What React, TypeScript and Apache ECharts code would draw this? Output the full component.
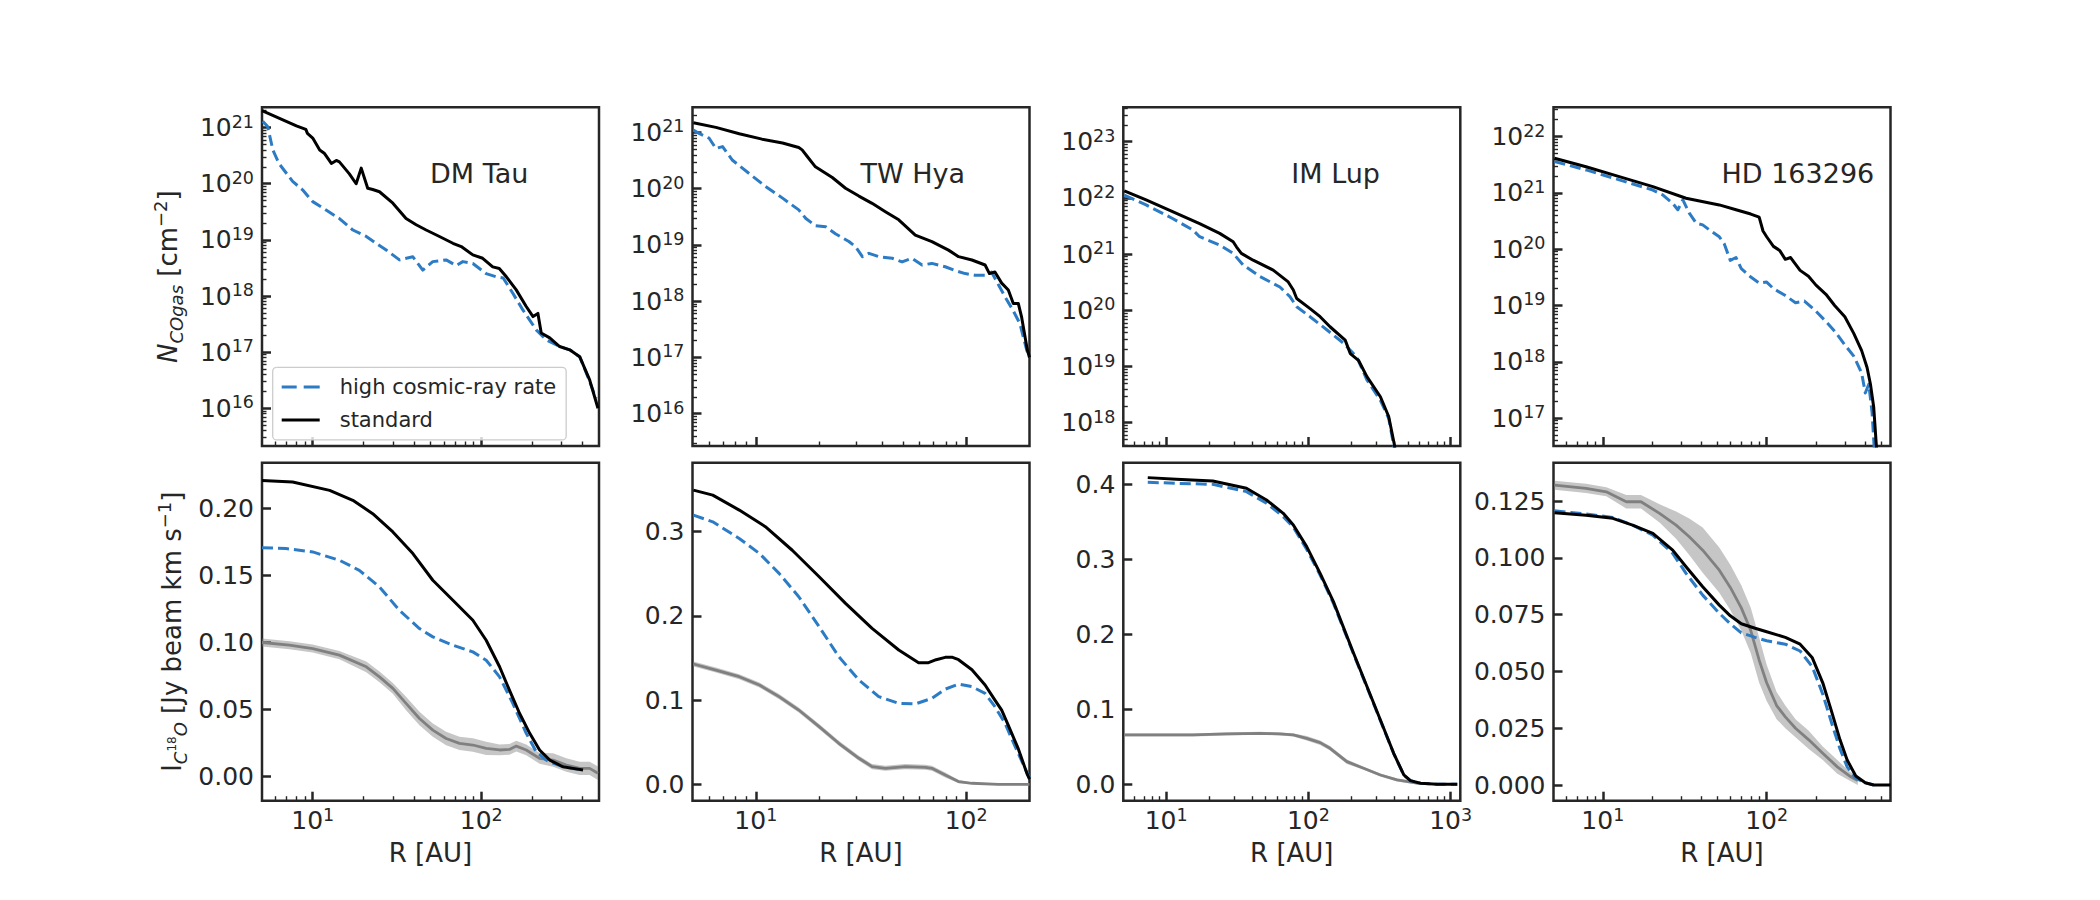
import { useEffect, useRef } from 'react';
import * as echarts from 'echarts';

/* ---------------- DM Tau ---------------- */
// gas-phase CO column density N_COgas [cm^-2] against radius R [AU]
const dmTauColR_cr = [5.05, 5.4, 5.8, 6.3, 7.6, 8.7, 10.0, 12.0, 14.4, 17.3, 20.8, 23.8, 27.3, 32.7, 39.3, 45, 51.6, 61.9, 71, 77.8, 89.2, 107, 123, 135, 154, 177, 212, 243, 292, 335, 384, 430, 480];
const dmTauColN_cr = [1.3e21, 1.05e21, 4.0e20, 2.3e20, 1.1e20, 7.8e19, 4.8e19, 3.4e19, 2.4e19, 1.5e19, 1.15e19, 8.7e18, 6.6e18, 4.4e18, 5.0e18, 2.9e18, 4.1e18, 4.4e18, 3.5e18, 4.1e18, 3.8e18, 2.5e18, 2.2e18, 2.1e18, 1.12e18, 5.6e17, 2.5e17, 1.66e17, 1.26e17, 1.1e17, 8.3e16, 3.6e16, 1.5e16];
const dmTauColR_std = [5.0, 6.3, 8.0, 9.1, 9.3, 10.0, 11.0, 11.7, 12.9, 13.8, 14.4, 16.5, 18.1, 19.4, 21.2, 22.7, 24.9, 29.9, 35.8, 41.1, 47.1, 56.5, 67.9, 76.1, 89.2, 102, 117, 128, 141, 161, 185, 203, 217, 227, 255, 292, 335, 384, 440, 493];
const dmTauColN_std = [2.0e21, 1.48e21, 1.07e21, 9.3e20, 7.9e20, 6.5e20, 4.0e20, 3.5e20, 2.3e20, 2.6e20, 2.45e20, 1.5e20, 1.0e20, 1.9e20, 8.3e19, 7.9e19, 7.2e19, 4.5e19, 2.4e19, 1.86e19, 1.5e19, 1.15e19, 8.7e18, 7.6e18, 5.4e18, 4.7e18, 3.3e18, 3.1e18, 2.2e18, 1.3e18, 6.5e17, 4.3e17, 4.9e17, 2.2e17, 1.8e17, 1.26e17, 1.1e17, 8.3e16, 3.2e16, 1.0e16];
// C18O integrated intensity [Jy beam^-1 km s^-1] against radius R [AU]
const dmTauIntR_cr = [5, 6.95, 10, 14.4, 18.9, 24.9, 32.7, 43, 51.6, 67.9, 89.2, 107, 128.5, 154, 185, 212, 243, 255, 305, 350, 402];
const dmTauIntV_cr = [0.1707, 0.170, 0.1675, 0.1613, 0.1538, 0.1414, 0.124, 0.1104, 0.1042, 0.098, 0.093, 0.0868, 0.0744, 0.0546, 0.0323, 0.0186, 0.0124, 0.011, 0.0074, 0.006, 0.005];
const dmTauIntR_std = [5, 7.6, 12.6, 17.3, 22.7, 29.9, 39.3, 51.6, 67.9, 89.2, 107, 128.5, 147, 169, 194, 222, 255, 305, 350, 402];
const dmTauIntV_std = [0.2208, 0.2196, 0.2134, 0.206, 0.196, 0.1824, 0.1663, 0.1464, 0.1315, 0.1166, 0.1017, 0.0819, 0.0645, 0.0471, 0.0323, 0.0199, 0.0124, 0.0074, 0.0062, 0.005];
const dmTauObsR = [5, 7.27, 10, 14.4, 20.8, 24.9, 29.9, 35.8, 43, 51.6, 61.9, 74.3, 89.2, 107, 128.5, 147, 161.5, 185, 222, 267, 320, 384, 440, 493];
const dmTauObsV = [0.100, 0.098, 0.0955, 0.0906, 0.0819, 0.0744, 0.0658, 0.0546, 0.0434, 0.0347, 0.0285, 0.0248, 0.0236, 0.0211, 0.0199, 0.0203, 0.0228, 0.0199, 0.0136, 0.0124, 0.0087, 0.0062, 0.0062, 0.0025];
const dmTauObsErr = [0.003, 0.003, 0.003, 0.003, 0.004, 0.004, 0.004, 0.005, 0.005, 0.005, 0.005, 0.005, 0.005, 0.005, 0.004, 0.004, 0.004, 0.004, 0.004, 0.005, 0.005, 0.005, 0.005, 0.005];
const dmTauIntTicks = [0, 0.05, 0.1, 0.15, 0.2];

/* ---------------- TW Hya ---------------- */
const twHyaColR_cr = [5.05, 5.4, 6.0, 6.46, 6.95, 7.75, 9.3, 11.1, 13.4, 16.0, 17.3, 19.2, 21.5, 23.9, 27.7, 29.8, 32.1, 34.5, 38.4, 44.5, 49.6, 55.3, 61.7, 68.7, 79.5, 88.7, 98.9, 110, 123, 132, 142, 153, 167, 180, 194, 200];
const twHyaColN_cr = [1.1e21, 9.5e20, 7.9e20, 5.2e20, 5.6e20, 3.2e20, 1.86e20, 1.1e20, 6.8e19, 4.2e19, 2.95e19, 2.2e19, 2.1e19, 1.58e19, 1.15e19, 9.3e18, 6.2e18, 7.1e18, 6.2e18, 5.8e18, 5.0e18, 5.8e18, 4.4e18, 4.7e18, 4.1e18, 3.5e18, 3.1e18, 2.9e18, 2.9e18, 3.3e18, 2.0e18, 1.2e18, 6.9e17, 4.0e17, 1.35e17, 1.0e17];
const twHyaColR_std = [5.05, 6.46, 8.34, 10.7, 13.4, 16.0, 16.6, 17.6, 19.2, 23.1, 26.7, 30.9, 35.7, 41.3, 47.8, 57.3, 68.7, 82.4, 92, 106.5, 123, 129, 137, 147.5, 158.6, 167.5, 177, 183.5, 195, 200];
const twHyaColN_std = [1.49e21, 1.23e21, 9.5e20, 7.6e20, 6.5e20, 5.4e20, 4.9e20, 3.7e20, 2.45e20, 1.58e20, 1.02e20, 7.4e19, 5.5e19, 3.9e19, 2.8e19, 1.5e19, 1.15e19, 8.1e18, 6.2e18, 5.4e18, 4.4e18, 3.1e18, 3.3e18, 2.1e18, 1.58e18, 9.1e17, 9.1e17, 5.2e17, 1.4e17, 1.0e17];
const twHyaIntR_cr = [5.05, 6.24, 8.34, 10.4, 12.9, 16, 20, 24.8, 30.9, 38.4, 47.8, 57.3, 68.7, 79.5, 92, 106.5, 123, 137, 153, 171, 192, 200];
const twHyaIntV_cr = [0.3197, 0.3118, 0.292, 0.2742, 0.2505, 0.2228, 0.1872, 0.1516, 0.1239, 0.1041, 0.0962, 0.0954, 0.1021, 0.113, 0.119, 0.116, 0.108, 0.0922, 0.0724, 0.0447, 0.017, 0.008];
const twHyaIntR_std = [5.05, 6.24, 8.34, 11.1, 14.9, 20, 26.7, 35.7, 47.8, 59.4, 66.2, 72, 79.5, 85.5, 92, 106.5, 123, 137, 147.5, 158.6, 177, 195, 200];
const twHyaIntV_std = [0.3494, 0.3435, 0.3257, 0.306, 0.278, 0.2465, 0.2149, 0.1852, 0.1595, 0.1444, 0.1444, 0.148, 0.1508, 0.151, 0.148, 0.136, 0.118, 0.1, 0.088, 0.07, 0.042, 0.012, 0.006];
const twHyaObsR = [5.05, 6.46, 8.34, 10.4, 12.9, 16, 20, 24.8, 30.9, 35.7, 41.3, 51.4, 64, 68.7, 79.5, 92, 106.5, 142, 200];
const twHyaObsV = [0.1429, 0.1357, 0.1278, 0.1179, 0.1041, 0.0882, 0.0685, 0.0487, 0.0309, 0.021, 0.019, 0.021, 0.0202, 0.019, 0.0111, 0.0032, 0.0012, 0.0, 0.0];
const twHyaObsErr = [0.003, 0.003, 0.003, 0.003, 0.003, 0.003, 0.003, 0.003, 0.003, 0.003, 0.003, 0.003, 0.003, 0.003, 0.003, 0.002, 0.001, 0.001, 0.001];
const twHyaIntTicks = [0, 0.1, 0.2, 0.3];

/* ---------------- IM Lup ---------------- */
const imLupColR_cr = [5.08, 7.23, 11.1, 15.4, 17.2, 23.8, 29.6, 34.8, 45.6, 63.1, 74.2, 82.8, 102.8, 134.7, 176.6, 219, 258, 321, 367, 398, 412];
const imLupColN_cr = [1.12e22, 7.5e21, 4.3e21, 2.7e21, 2.04e21, 1.45e21, 1.03e21, 6.4e20, 4.0e20, 2.6e20, 1.75e20, 1.16e20, 7.7e19, 4.5e19, 2.6e19, 1.48e19, 5.8e18, 2.5e18, 1.2e18, 4.0e17, 2.0e17];
const imLupColR_std = [5.08, 7.23, 11.1, 17.2, 23.8, 29.6, 31.2, 33.8, 40.9, 56.6, 72.2, 78.4, 82.8, 102.8, 121, 142, 181.5, 197, 225, 258, 321, 367, 403, 415];
const imLupColN_std = [1.34e22, 9.2e21, 5.7e21, 3.5e21, 2.34e21, 1.66e21, 1.35e21, 1.03e21, 7.8e20, 5.2e20, 3.2e20, 2.3e20, 1.62e20, 1.07e20, 7.7e19, 5.1e19, 2.95e19, 1.7e19, 1.29e19, 6.6e18, 2.9e18, 1.29e18, 4.0e17, 2.0e17];
const imLupIntR_cr = [7.43, 11.8, 21.3, 36.7, 50.8, 66.6, 78.4, 97.3, 121, 150, 208, 288, 398, 469, 522, 614, 805, 1114];
const imLupIntV_cr = [0.4027, 0.4013, 0.40, 0.3902, 0.3747, 0.3569, 0.3427, 0.3133, 0.279, 0.2413, 0.1735, 0.107, 0.041, 0.012, 0.0048, 0.0013, 0.0, 0.0];
const imLupIntR_std = [7.43, 11.8, 21.3, 36.7, 50.8, 66.6, 78.4, 97.3, 121, 150, 208, 288, 398, 469, 522, 614, 805, 1114];
const imLupIntV_std = [0.4089, 0.4067, 0.4044, 0.3947, 0.3791, 0.3613, 0.3458, 0.3169, 0.2813, 0.2435, 0.1747, 0.108, 0.0413, 0.0124, 0.0049, 0.0013, 0.0, 0.0];
const imLupObsR = [5.08, 9.0, 15.4, 26.5, 45.6, 63.1, 78.4, 97.3, 121, 142, 186.6, 244.5, 321, 420, 597];
const imLupObsV = [0.0658, 0.0658, 0.0658, 0.0671, 0.068, 0.0671, 0.0658, 0.0613, 0.0555, 0.048, 0.0302, 0.0213, 0.0124, 0.0058, 0.0013];
const imLupObsErr = [0.002, 0.002, 0.002, 0.002, 0.002, 0.002, 0.002, 0.003, 0.003, 0.003, 0.003, 0.002, 0.002, 0.002, 0.002];
const imLupIntTicks = [0, 0.1, 0.2, 0.3, 0.4];

/* ---------------- HD 163296 ---------------- */
const hdColR_cr = [5.07, 7.9, 12.6, 20.2, 23.2, 26.7, 28.7, 30.8, 33.8, 37.1, 40.7, 44.7, 51.4, 55, 60, 65, 70, 80, 90, 100, 110, 130, 150, 170, 200, 230, 260, 300, 340, 380, 400, 420, 440, 455];
const hdColN_cr = [3.6e21, 2.55e21, 1.7e21, 1.12e21, 9.2e20, 6.5e20, 5.0e20, 7.5e20, 4.3e20, 2.9e20, 2.7e20, 2.2e20, 1.66e20, 1.26e20, 6.3e19, 7.1e19, 4.5e19, 3.2e19, 2.5e19, 2.6e19, 2.0e19, 1.5e19, 1.12e19, 1.2e19, 7.9e18, 5.2e18, 3.5e18, 2.0e18, 1.26e18, 6.3e17, 2.8e17, 4.0e17, 1.26e17, 2.5e16];
const hdColR_std = [5.07, 7.9, 12.6, 20.2, 32.2, 51.4, 65, 80, 90, 95, 100, 110, 120, 130, 140, 160, 180, 200, 230, 260, 300, 340, 380, 410, 430, 450, 460, 470];
const hdColN_std = [4.1e21, 2.9e21, 1.94e21, 1.29e21, 8.0e20, 6.1e20, 5.0e20, 4.2e20, 3.7e20, 2.1e20, 1.66e20, 1.12e20, 9.5e19, 6.6e19, 7.1e19, 4.2e19, 3.3e19, 2.3e19, 1.58e19, 1.0e19, 6.3e18, 3.2e18, 1.58e18, 7.9e17, 4.0e17, 1.58e17, 6.3e16, 2.5e16];
const hdIntR_cr = [5.07, 7.9, 11.5, 15.2, 20.2, 26.7, 32.2, 40.7, 51.4, 60, 70, 85, 100, 130, 160, 190, 220, 250, 280, 310, 350, 400, 450];
const hdIntV_cr = [0.1207, 0.1193, 0.1178, 0.1144, 0.11, 0.102, 0.0932, 0.0836, 0.0756, 0.071, 0.067, 0.065, 0.0635, 0.062, 0.059, 0.052, 0.04, 0.027, 0.016, 0.008, 0.003, 0.001, 0.0];
const hdIntR_std = [5.07, 7.9, 11.5, 15.2, 20.2, 26.7, 32.2, 40.7, 51.4, 60, 70, 85, 100, 130, 160, 190, 220, 250, 280, 310, 350, 400, 450, 500, 570];
const hdIntV_std = [0.1199, 0.1188, 0.1174, 0.1144, 0.1108, 0.1034, 0.0961, 0.0873, 0.0792, 0.0745, 0.071, 0.069, 0.0675, 0.065, 0.062, 0.056, 0.045, 0.032, 0.02, 0.011, 0.004, 0.001, 0.0, 0.0, 0.0];
const hdObsR = [5.07, 7.9, 10.5, 13.9, 17.1, 22.2, 28, 33.7, 40.7, 51.4, 60, 70, 80, 90, 100, 115, 130, 150, 180, 220, 270, 320, 360];
const hdObsV = [0.132, 0.1306, 0.1291, 0.1247, 0.1247, 0.1196, 0.1144, 0.1093, 0.1034, 0.0946, 0.087, 0.078, 0.068, 0.055, 0.045, 0.035, 0.03, 0.025, 0.02, 0.014, 0.008, 0.004, 0.002];
const hdObsErr = [0.002, 0.002, 0.002, 0.003, 0.003, 0.004, 0.006, 0.008, 0.01, 0.01, 0.01, 0.01, 0.01, 0.01, 0.008, 0.006, 0.005, 0.004, 0.004, 0.003, 0.003, 0.002, 0.002];
const hdIntTicks = [0, 0.025, 0.05, 0.075, 0.1, 0.125];

/* ---------------- styling and layout ---------------- */
const FONT = 'DejaVu Sans';
const INK = '#262626';
const BLUE = '#2c7bc5';
const GREY = '#808080';
const BAND = 'rgba(128,128,128,0.45)';
const CR_NAME = 'high cosmic-ray rate';
const STD_NAME = 'standard';
const TICK_FONT = 25;

const GRID_LEFT = [262, 692.5, 1123.3, 1553.5];
const GRID_W = 337;
const TOP_Y = 107.3;
const TOP_H = 338.7;
const BOT_Y = 462.7;
const BOT_H = 338;

const panels = [
  {
    name: 'DM Tau', xMin: 5, xMax: 500, colMin: 2.13e15, colMax: 2.3e21, intMin: -0.0179, intMax: 0.234,
    intTicks: dmTauIntTicks, digits: 2,
    colCr: [dmTauColR_cr, dmTauColN_cr], colStd: [dmTauColR_std, dmTauColN_std],
    intCr: [dmTauIntR_cr, dmTauIntV_cr], intStd: [dmTauIntR_std, dmTauIntV_std],
    obs: [dmTauObsR, dmTauObsV, dmTauObsErr],
  },
  {
    name: 'TW Hya', xMin: 5, xMax: 200, colMin: 2.67e15, colMax: 2.8e21, intMin: -0.0195, intMax: 0.382,
    intTicks: twHyaIntTicks, digits: 1,
    colCr: [twHyaColR_cr, twHyaColN_cr], colStd: [twHyaColR_std, twHyaColN_std],
    intCr: [twHyaIntR_cr, twHyaIntV_cr], intStd: [twHyaIntR_std, twHyaIntV_std],
    obs: [twHyaObsR, twHyaObsV, twHyaObsErr],
  },
  {
    name: 'IM Lup', xMin: 5, xMax: 1170, colMin: 3.85e17, colMax: 4.1e23, intMin: -0.0219, intMax: 0.4288,
    intTicks: imLupIntTicks, digits: 1,
    colCr: [imLupColR_cr, imLupColN_cr], colStd: [imLupColR_std, imLupColN_std],
    intCr: [imLupIntR_cr, imLupIntV_cr], intStd: [imLupIntR_std, imLupIntV_std],
    obs: [imLupObsR, imLupObsV, imLupObsErr],
  },
  {
    name: 'HD 163296', xMin: 5, xMax: 570, colMin: 3.2e16, colMax: 3.3e22, intMin: -0.0069, intMax: 0.1419,
    intTicks: hdIntTicks, digits: 3,
    colCr: [hdColR_cr, hdColN_cr], colStd: [hdColR_std, hdColN_std],
    intCr: [hdIntR_cr, hdIntV_cr], intStd: [hdIntR_std, hdIntV_std],
    obs: [hdObsR, hdObsV, hdObsErr],
  },
];

const pairs = (xs: number[], ys: number[]) => xs.map((x, i) => [x, ys[i]]);

// powers of ten inside [lo, hi]
const decadesIn = (lo: number, hi: number) => {
  const out: number[] = [];
  for (let e = Math.ceil(Math.log10(lo) - 1e-9); e <= Math.floor(Math.log10(hi) + 1e-9); e++) out.push(Math.pow(10, e));
  return out;
};
// 2..9 x 10^n inside (lo, hi)
const minorsIn = (lo: number, hi: number) => {
  const out: number[] = [];
  for (let e = Math.floor(Math.log10(lo)); e <= Math.ceil(Math.log10(hi)); e++) {
    for (let k = 2; k <= 9; k++) {
      const v = k * Math.pow(10, e);
      if (v > lo && v < hi) out.push(v);
    }
  }
  return out;
};

const richPow = {
  b: { fontFamily: FONT, fontSize: TICK_FONT, color: INK, lineHeight: 30, verticalAlign: 'middle' },
  s: { fontFamily: FONT, fontSize: 17.5, color: INK, lineHeight: 17, verticalAlign: 'top' },
};
const powLabel = (v: number) => `{b|10}{s|${Math.round(Math.log10(v))}}`;

const richName = {
  t: { fontFamily: FONT, fontSize: 26, color: INK, lineHeight: 34, verticalAlign: 'middle' },
  i: { fontFamily: FONT, fontSize: 26, fontStyle: 'italic', color: INK, lineHeight: 34, verticalAlign: 'middle' },
  is: { fontFamily: FONT, fontSize: 18, fontStyle: 'italic', color: INK, lineHeight: 18, verticalAlign: 'bottom' },
  iss: { fontFamily: FONT, fontSize: 12, color: INK, lineHeight: 12, verticalAlign: 'middle' },
  s: { fontFamily: FONT, fontSize: 18, color: INK, lineHeight: 18, verticalAlign: 'top' },
};

const majorTick = (values: number[]) => ({
  show: true, inside: true, length: 9, customValues: values, lineStyle: { color: INK, width: 2.5 },
});
const minorTick = (values: number[]) => ({
  show: true, inside: true, length: 4.5, customValues: values, lineStyle: { color: INK, width: 1.4 },
});
const noLine = { show: false, onZero: false };

function buildOption() {
  const grid: any[] = [];
  const xAxis: any[] = [];
  const yAxis: any[] = [];
  const series: any[] = [];

  // grid index g = row * 4 + col; grids and axes are pushed in that same order
  [0, 1].forEach((row) => {
    panels.forEach((p, col) => {
      const g = row * 4 + col;
      grid.push({
        left: GRID_LEFT[col], top: row ? BOT_Y : TOP_Y, width: GRID_W, height: row ? BOT_H : TOP_H,
        show: true, borderColor: INK, borderWidth: 2.5, backgroundColor: 'transparent',
        containLabel: false, outerBoundsMode: 'none',
      });

      const xMajor = decadesIn(p.xMin, p.xMax);
      xAxis.push({
        gridIndex: g, type: 'log', logBase: 10, min: p.xMin, max: p.xMax, position: 'bottom',
        axisLine: noLine, splitLine: { show: false },
        axisTick: majorTick(xMajor),
        axisLabel: row
          ? { show: true, customValues: xMajor, formatter: powLabel, margin: 5, rich: richPow, color: INK, fontFamily: FONT, fontSize: TICK_FONT }
          : { show: false },
        name: row ? 'R [AU]' : '', nameLocation: 'middle', nameGap: 37,
        nameTextStyle: { fontFamily: FONT, fontSize: 26, color: INK, lineHeight: 30 },
      });
      xAxis.push({
        gridIndex: g, type: 'log', logBase: 10, min: p.xMin, max: p.xMax, position: 'bottom',
        axisLine: noLine, splitLine: { show: false }, axisLabel: { show: false },
        axisTick: minorTick(minorsIn(p.xMin, p.xMax)),
      });

      if (row === 0) {
        const yMajor = decadesIn(p.colMin, p.colMax);
        yAxis.push({
          gridIndex: g, type: 'log', logBase: 10, min: p.colMin, max: p.colMax, position: 'left',
          axisLine: noLine, splitLine: { show: false },
          axisTick: majorTick(yMajor),
          axisLabel: { show: true, customValues: yMajor, formatter: powLabel, margin: 8, rich: richPow, color: INK, fontFamily: FONT, fontSize: TICK_FONT },
          name: col === 0 ? '{i|N}{is|COgas}{t| [cm}{s|\u22122}{t|]}' : '',
          nameLocation: 'middle', nameRotate: 90, nameGap: 77, nameTextStyle: { rich: richName },
        });
        yAxis.push({
          gridIndex: g, type: 'log', logBase: 10, min: p.colMin, max: p.colMax, position: 'left',
          axisLine: noLine, splitLine: { show: false }, axisLabel: { show: false },
          axisTick: minorTick(minorsIn(p.colMin, p.colMax)),
        });
      } else {
        yAxis.push({
          gridIndex: g, type: 'value', min: p.intMin, max: p.intMax, position: 'left',
          axisLine: noLine, splitLine: { show: false },
          axisTick: majorTick(p.intTicks),
          axisLabel: {
            show: true, customValues: p.intTicks, margin: 8, color: INK, fontFamily: FONT, fontSize: TICK_FONT,
            formatter: (v: number) => v.toFixed(p.digits),
          },
          name: col === 0 ? '{t|I}{is|C}{iss|18}{is|O}{t| [Jy beam km s}{s|\u22121}{t|]}' : '',
          nameLocation: 'middle', nameRotate: 90, nameGap: 73, nameTextStyle: { rich: richName },
        });
        yAxis.push({
          gridIndex: g, type: 'value', min: p.intMin, max: p.intMax, position: 'left',
          axisLine: noLine, splitLine: { show: false }, axisLabel: { show: false }, axisTick: { show: false },
        });
      }

      const ax = { xAxisIndex: 2 * g, yAxisIndex: 2 * g };
      const line = (name: string, data: number[][], color: string, dashed: boolean, width = 3) => ({
        type: 'line', name, ...ax, data, symbol: 'none', showSymbol: false, silent: true,
        lineStyle: { color, width, type: dashed ? [11, 5] : 'solid', cap: 'butt', join: 'round' },
        itemStyle: { color },
      });

      if (row === 0) {
        series.push(line(CR_NAME, pairs(p.colCr[0], p.colCr[1]), BLUE, true));
        series.push(line(STD_NAME, pairs(p.colStd[0], p.colStd[1]), '#000000', false));
      } else {
        const [oR, oV, oE] = p.obs;
        // shaded uncertainty band of the observed profile: one polygon, upper edge then lower edge
        series.push({
          type: 'custom', name: `${p.name} uncertainty`, ...ax, silent: true,
          data: oR.map((r, i) => [r, oV[i] - oE[i], oV[i] + oE[i]]),
          encode: { x: 0, y: [1, 2] },
          renderItem: (params: any, api: any) => {
            if (params.dataIndex !== 0) return null;
            const upper = oR.map((r, i) => api.coord([r, oV[i] + oE[i]]));
            const lower = oR.map((r, i) => api.coord([r, oV[i] - oE[i]])).reverse();
            const cs = params.coordSys;
            return {
              type: 'polygon',
              shape: { points: upper.concat(lower) },
              style: { fill: BAND, stroke: null },
              clipPath: { type: 'rect', shape: { x: cs.x, y: cs.y, width: cs.width, height: cs.height } },
            };
          },
        });
        series.push(line(`${p.name} observed`, pairs(oR, oV), GREY, false, 2.8));
        series.push(line(CR_NAME, pairs(p.intCr[0], p.intCr[1]), BLUE, true));
        series.push(line(STD_NAME, pairs(p.intStd[0], p.intStd[1]), '#000000', false));
      }
    });
  });

  return {
    animation: false,
    backgroundColor: '#ffffff',
    textStyle: { fontFamily: FONT },
    grid, xAxis, yAxis, series,
    legend: {
      data: [
        { name: CR_NAME, icon: 'path://M0,0h15v3H0z M22,0h16v3H22z', itemStyle: { color: BLUE } },
        { name: STD_NAME, icon: 'path://M0,0h38v3H0z', itemStyle: { color: '#000000' } },
      ],
      orient: 'vertical', left: 272.7, top: 367.3,
      padding: [9.3, 10, 9.3, 9], itemWidth: 38, itemHeight: 3, itemGap: 12,
      backgroundColor: 'rgba(255,255,255,0.8)', borderColor: '#cccccc', borderWidth: 1.3, borderRadius: 4,
      selectedMode: false,
      textStyle: { fontFamily: FONT, fontSize: 21, color: INK, lineHeight: 18, padding: [0, 0, 0, 15] },
    },
    graphic: panels.map((p, col) => ({
      type: 'text', x: GRID_LEFT[col] + 168, y: 173.7, z: 50, silent: true,
      style: { text: p.name, fontFamily: FONT, fontSize: 27, fill: INK, align: 'left', verticalAlign: 'middle' },
    })),
  };
}

export default function App() {
  const ref = useRef<HTMLDivElement>(null);
  useEffect(() => {
    if (!ref.current) return;
    const chart = echarts.init(ref.current, null, { renderer: 'svg' });
    chart.setOption(buildOption() as any);
    return () => chart.dispose();
  }, []);
  return (
    <div
      ref={ref}
      style={{ position: 'fixed', left: 0, top: 0, width: 2100, height: 900, background: '#ffffff' }}
    />
  );
}
